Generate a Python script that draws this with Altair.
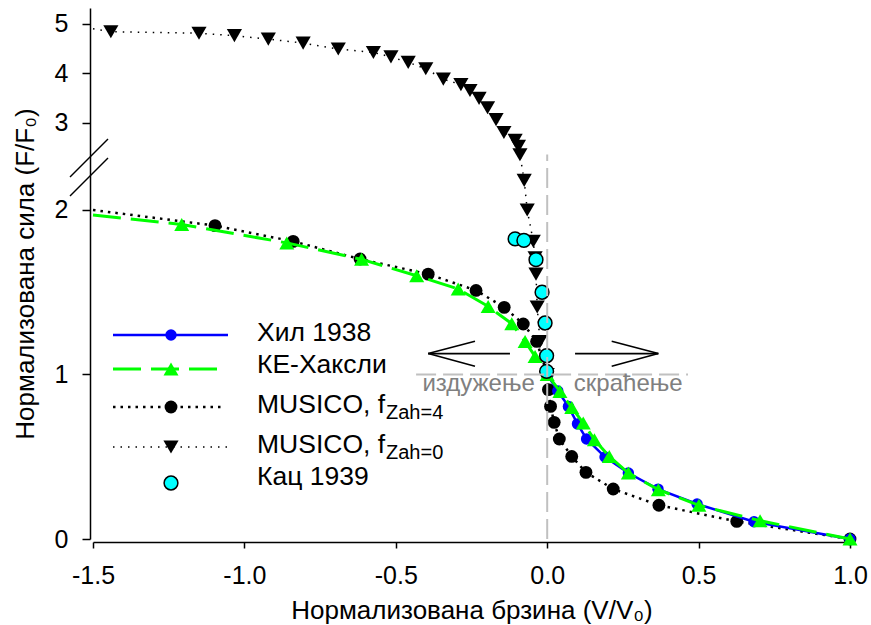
import altair as alt
import pandas as pd

# ---------------------------------------------------------------------------
# Force-velocity data: normalised velocity (V/V0) and normalised force (F/F0)
# ---------------------------------------------------------------------------
hill_v = [0.0, 0.035, 0.070, 0.100, 0.130, 0.191, 0.268, 0.366, 0.495, 0.683, 1.0]
hill_f = [1.0, 0.900, 0.806, 0.700, 0.608, 0.498, 0.401, 0.303, 0.213, 0.105, 0.0]

huxley_v = [-1.5, -1.207, -0.860, -0.613, -0.431, -0.294, -0.195, -0.117, -0.073, -0.040,
            0.0, 0.042, 0.081, 0.119, 0.156, 0.205, 0.268, 0.367, 0.501, 0.703, 1.0]
huxley_f = [1.97, 1.912, 1.800, 1.700, 1.600, 1.520, 1.414, 1.309, 1.201, 1.110,
            1.0, 0.897, 0.800, 0.705, 0.604, 0.502, 0.401, 0.300, 0.205, 0.111, 0.0]

musico4_v = [-1.5, -1.097, -0.839, -0.618, -0.393, -0.235, -0.142, -0.079, -0.035,
             0.0, 0.004, 0.011, 0.023, 0.040, 0.081, 0.128, 0.218, 0.369, 0.626, 1.0]
musico4_f = [2.0, 1.905, 1.809, 1.702, 1.610, 1.511, 1.408, 1.307, 1.201,
             1.0, 0.908, 0.806, 0.709, 0.608, 0.502, 0.405, 0.304, 0.205, 0.107, 0.0]

musico0_v = [-1.5, -1.441, -1.150, -1.033, -0.921, -0.806, -0.690, -0.574, -0.516, -0.459,
             -0.401, -0.343, -0.285, -0.255, -0.225, -0.197, -0.169, -0.143, -0.106, -0.095,
             -0.090, -0.076, -0.066, -0.046, -0.040, -0.037, -0.033, -0.024, 0.0]
musico0_f = [4.90, 4.84, 4.81, 4.76, 4.69, 4.61, 4.49, 4.42, 4.33, 4.22,
             4.09, 3.88, 3.77, 3.65, 3.49, 3.30, 3.06, 2.80, 2.64, 2.52,
             2.35, 2.18, 2.00, 1.81, 1.71, 1.61, 1.41, 1.20, 1.0]

katz_v = [-0.106, -0.077, -0.037, -0.017, -0.007, -0.002, -0.002]
katz_f = [1.824, 1.815, 1.698, 1.500, 1.313, 1.114, 1.019]

legend_labels = ["Хил 1938", "КЕ-Хаксли", "MUSICO, f", "MUSICO, f", "Кац 1939"]
legend_subs = ["", "", "Zah=4", "Zah=0", ""]

x_ticks = [-1.5, -1.0, -0.5, 0.0, 0.5, 1.0]
y_ticks = [0, 1, 2, 3, 4, 5]

x_title = "Нормализована брзина (V/V₀)"
y_title = "Нормализована сила (F/F₀)"
stretch_label = "издужење"
shorten_label = "скраћење"

# ---------------------------------------------------------------------------
# Layout / style
# ---------------------------------------------------------------------------
FONT = "Liberation Sans, Arial, DejaVu Sans, sans-serif"
W, H = 757, 531
BLUE, GREEN, CYAN, GREY = "#0000ff", "#00ff00", "#00ffff", "#c0c0c0"

X_SCALE = alt.Scale(domain=[-1.5, 1.0], nice=False, zero=False)
# broken force axis: a tall lower segment (0 .. 2.33) and a compressed upper one
Y_SCALE = alt.Scale(domain=[0, 2.33, 5.32], range=[H, 147.7, 0], nice=False, zero=False)

X_AXIS = alt.Axis(values=x_ticks, format=".1f",
                  labelExpr="replace(datum.label, '\u2212', '-')", labelFlush=False,
                  title=x_title, offset=3, tickSize=6, labelPadding=15, titlePadding=9)
Y_AXIS = alt.Axis(values=y_ticks, format="d", title=y_title, offset=3, tickSize=8,
                  labelFlush=False, labelPadding=14, titlePadding=16)


def frame(v, f):
    return pd.DataFrame({"v": v, "f": f})


def xy(ch, y2=None, x2=None):
    kw = dict(x=alt.X("v:Q", scale=X_SCALE, axis=X_AXIS),
              y=alt.Y("f:Q", scale=Y_SCALE, axis=Y_AXIS))
    if x2:
        kw["x2"] = alt.X2(x2)
    if y2:
        kw["y2"] = alt.Y2(y2)
    return ch.encode(**kw)


def series(v, f, line_kw, point_kw):
    base = alt.Chart(frame(v, f))
    layers = []
    if line_kw is not None:
        layers.append(xy(base.mark_line(**line_kw)))
    layers.append(xy(base.mark_point(opacity=1, **point_kw)).transform_filter("datum.v > -1.5"))
    return layers


dot0 = dict(color="black", strokeWidth=1.5, strokeDash=[1.5, 6])
dot4 = dict(color="black", strokeWidth=2.5, strokeDash=[2.5, 5])
solid = dict(color=BLUE, strokeWidth=2.5)
dash = dict(color=GREEN, strokeWidth=3, strokeDash=[28, 10])

sym0 = dict(shape="triangle-down", filled=True, fill="black", strokeWidth=0, size=230)
sym4 = dict(shape="circle", filled=True, fill="black", strokeWidth=0, size=165)
symh = dict(shape="circle", filled=True, fill=BLUE, strokeWidth=0, size=130)
symx = dict(shape="triangle-up", filled=True, fill=GREEN, strokeWidth=0, size=225)
symk = dict(shape="circle", filled=True, fill=CYAN, stroke="black", strokeWidth=1.5, size=190)

layers = []
layers += series(musico0_v, musico0_f, dot0, sym0)
layers += series(musico4_v, musico4_f, dot4, sym4)
layers += series(hill_v, hill_f, solid, symh)
layers += series(huxley_v, huxley_f, dash, symx)
layers += series(katz_v, katz_f, None, symk)

# grey guides at V = 0 and F = F0
guides = alt.Chart(pd.DataFrame({"v": [0.0, -0.433], "f": [0.0, 1.0],
                                 "v2": [0.0, 0.465], "f2": [2.354, 1.0]}))
layers.append(xy(guides.mark_rule(color=GREY, strokeWidth=2, strokeDash=[20, 7]),
                 y2="f2", x2="v2"))

# direction arrows (open chevron heads)
arrows = pd.DataFrame({
    "v":  [-0.393, -0.393, -0.393, 0.092, 0.367, 0.367],
    "f":  [1.127, 1.127, 1.127, 1.127, 1.127, 1.127],
    "v2": [-0.123, -0.2385, -0.2385, 0.367, 0.213, 0.213],
    "f2": [1.127, 1.202, 1.050, 1.127, 1.202, 1.050],
})
layers.append(xy(alt.Chart(arrows).mark_rule(color="black", strokeWidth=1.6),
                 y2="f2", x2="v2"))

notes = alt.Chart(pd.DataFrame({"v": [-0.041, 0.088], "f": [0.90, 0.90],
                                "t": [stretch_label, shorten_label],
                                "a": ["right", "left"]}))
layers.append(xy(notes.mark_text(font=FONT, fontSize=24, color="#808080",
                                 baseline="alphabetic", align="right"))
              .encode(text="t:N").transform_filter("datum.a == 'right'"))
layers.append(xy(notes.mark_text(font=FONT, fontSize=24, color="#808080",
                                 baseline="alphabetic", align="left"))
              .encode(text="t:N").transform_filter("datum.a == 'left'"))

# axis break marks
one = alt.Data(values=[{"k": 0}])
for y_lo, y_hi in [(169, 131), (188, 150)]:
    layers.append(alt.Chart(one).mark_rule(color="black", strokeWidth=1.5).encode(
        x=alt.value(-23), x2=alt.value(15), y=alt.value(y_lo), y2=alt.value(y_hi)))

# legend, drawn inside the plot area
LEG_ROW_Y = [327, 361, 399, 439, 475]
LEG_TEXT_Y = [333, 365, 405, 445, 477]
LEG_LINE_X0, LEG_SYM_X, LEG_TEXT_X, LEG_SUB_X = 20, 78, 164, 293
leg_lines = [(solid, 135), (dash, 124), (dot4, 132), (dot0, 135), (None, 0)]
leg_syms = [symh, symx, sym4, sym0, symk]

for i, label in enumerate(legend_labels):
    ry = LEG_ROW_Y[i]
    style, x_end = leg_lines[i]
    if style is not None:
        layers.append(alt.Chart(one).mark_rule(**style).encode(
            x=alt.value(LEG_LINE_X0), x2=alt.value(x_end), y=alt.value(ry)))
    layers.append(alt.Chart(one).mark_point(opacity=1, **leg_syms[i]).encode(
        x=alt.value(LEG_SYM_X), y=alt.value(ry)))
    layers.append(alt.Chart(alt.Data(values=[{"t": label}])).mark_text(
        font=FONT, fontSize=26.5, color="black", align="left", baseline="alphabetic"
    ).encode(x=alt.value(LEG_TEXT_X), y=alt.value(LEG_TEXT_Y[i]), text="t:N"))
    if legend_subs[i]:
        layers.append(alt.Chart(alt.Data(values=[{"t": legend_subs[i]}])).mark_text(
            font=FONT, fontSize=20, color="black", align="left", baseline="alphabetic"
        ).encode(x=alt.value(LEG_SUB_X), y=alt.value(LEG_TEXT_Y[i] + 6), text="t:N"))

chart = (
    alt.layer(*layers)
    .properties(width=W, height=H,
                padding={"left": 93, "top": 8, "right": 21, "bottom": 86},
                autosize=alt.AutoSizeParams(type="none"),
                background="white")
    .configure_view(strokeWidth=0)
    .configure_axis(labelFont=FONT, titleFont=FONT, labelFontSize=25, titleFontSize=26,
                    titleFontWeight="normal", labelColor="black", titleColor="black",
                    domainColor="black", tickColor="black", domainWidth=1.5,
                    tickWidth=1.5, grid=False)
)

chart.save("out.html", embed_options={"renderer": "svg", "actions": False})
